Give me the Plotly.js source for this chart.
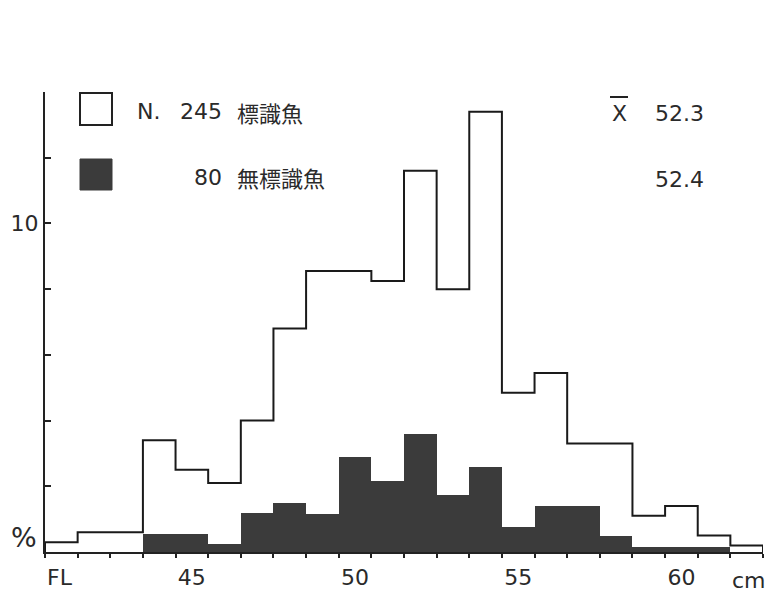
<!DOCTYPE html>
<html>
<head>
<meta charset="utf-8">
<script src="https://cdn.plot.ly/plotly-3.0.1.min.js"></script>
<style>html,body{margin:0;padding:0;background:#fff;}#chart{width:784px;height:605px;}</style>
</head>
<body>
<div id="chart"></div>
<script>
// Fork length classes (cm)
const lengthClasses = [41,42,43,44,45,46,47,48,49,50,51,52,53,54,55,56,57,58,59,60,61,62];
// 標識魚 (tagged fish, N=245), %
const taggedPct = [0.3,0.6,0.6,3.4,2.5,2.1,4.0,6.8,8.55,8.55,8.25,11.6,8.0,13.4,4.85,5.45,3.3,3.3,1.1,1.4,0.5,0.2];
// 無標識魚 (untagged fish, N=80), %
const untaggedPct = [0,0,0,0.55,0.55,0.25,1.2,1.5,1.15,2.9,2.15,3.6,1.75,2.6,0.75,1.4,1.4,0.5,0.15,0.15,0.15,0];
const xTickLabels = [45,50,55,60];
const yTickVals = [0,2,4,6,8,10,12,14];
const yTickText = ['','','','','','10','',''];
const nTagged = 245, nUntagged = 80;
const meanTagged = '52.3', meanUntagged = '52.4';

const FONT = '"DejaVu Sans", "Noto Sans CJK JP", sans-serif';
const CJK = '"Noto Sans CJK JP", sans-serif';
const INK = '#222';
const TXT = '#2a2a2a';

// step outline from bin edges
const edges = lengthClasses.map(c => c - 0.5);
edges.push(lengthClasses[lengthClasses.length-1] + 0.5);
const stepX = [edges[0]].concat(edges);
const stepY = [0].concat(taggedPct).concat([taggedPct[taggedPct.length-1]]);
stepX.push(edges[edges.length-1]); stepY.push(0);

const traces = [
  {type:'scatter', mode:'lines', x:stepX, y:stepY, line:{shape:'hv', color:'#1a1a1a', width:2}, hoverinfo:'skip', showlegend:false},
  {type:'bar', x:lengthClasses, y:untaggedPct, width:1, marker:{color:'#3b3b3b', line:{width:0}}, hoverinfo:'skip', showlegend:false}
];

// pixel helpers for decorations (plot area: x 45..763, y 92..552)
const L=45, R=763, T=92, B=552;
const px = v => (v-L)/(R-L);
const py = v => (B-v)/(B-T);

const ann = (text, x, y, xanchor, size, fam) => ({text:text, x:px(x), y:py(y), xref:'paper', yref:'paper', xanchor:xanchor||'left', yanchor:'middle', showarrow:false, font:{family:fam||FONT, size:size||22, color:TXT}});

const layout = {
  width:784, height:605,
  margin:{l:L, r:784-R, t:T, b:605-B, pad:0},
  paper_bgcolor:'#fff', plot_bgcolor:'#fff',
  bargap:0,
  showlegend:false,
  xaxis:{range:[edges[0], edges[edges.length-1]], showline:true, linecolor:INK, linewidth:2, showgrid:false, zeroline:false,
         tickmode:'array', tickvals:xTickLabels, ticktext:xTickLabels.map(String), ticks:'', ticklabelstandoff:5,
         tickfont:{family:FONT, size:22, color:TXT},
         minor:{tickmode:'array', tickvals:edges, ticks:'outside', ticklen:4, tickwidth:2, tickcolor:INK, showgrid:false}},
  yaxis:{range:[0,14], showline:true, linecolor:INK, linewidth:2, showgrid:false, zeroline:false,
         tickmode:'array', tickvals:yTickVals, ticktext:yTickText, ticks:'inside', ticklen:6, tickwidth:2, tickcolor:INK,
         tickfont:{family:FONT, size:22, color:TXT}},
  shapes:[
    {type:'rect', xref:'paper', yref:'paper', x0:px(80), x1:px(112), y0:py(125), y1:py(93), line:{color:INK, width:2}, fillcolor:'#fff'},
    {type:'rect', xref:'paper', yref:'paper', x0:px(80), x1:px(112), y0:py(190), y1:py(159), line:{color:'#3b3b3b', width:1}, fillcolor:'#3b3b3b'},
    {type:'line', xref:'paper', yref:'paper', x0:px(610), x1:px(628), y0:py(97), y1:py(97), line:{color:INK, width:2}}
  ],
  annotations:[
    ann('N.', 135, 112),
    ann(String(nTagged), 224, 112, 'right'),
    ann('標識魚', 235, 112, 'left', 22, CJK),
    ann(String(nUntagged), 224, 177, 'right'),
    ann('無標識魚', 235, 177, 'left', 22, CJK),
    ann('X', 619, 114, 'center'),
    ann(meanTagged, 653, 114),
    ann(meanUntagged, 653, 179),
    ann('%', 24, 537, 'center', 27),
    ann('FL', 45, 577, 'left', 22),
    ann('cm', 749, 580, 'center', 22)
  ]
};

Plotly.newPlot('chart', traces, layout, {staticPlot:true, displayModeBar:false});
</script>
</body>
</html>
